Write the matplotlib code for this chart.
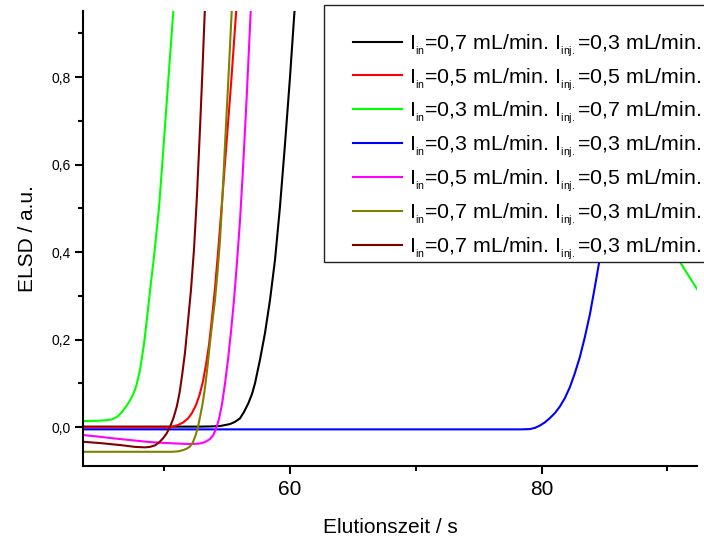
import matplotlib
matplotlib.use("Agg")
import matplotlib.pyplot as plt
from matplotlib.patches import Rectangle
from matplotlib.ticker import MultipleLocator, FuncFormatter

plt.rcParams['font.family'] = ['Liberation Sans', 'DejaVu Sans']
plt.rcParams['mathtext.default'] = 'regular'

# Elution traces (time in s, ELSD signal in a.u.)
black_t = [43.55, 52.85, 53.64, 54.44, 55.23, 55.63, 56.03, 56.34, 56.69, 56.98, 57.22, 57.61, 58.01, 58.41,
           58.81, 59.20, 59.60, 60.00, 60.36, 60.80]
black_y = [0.001, 0.001, 0.0014, 0.0023, 0.0069, 0.0119, 0.0199, 0.0343, 0.0542, 0.0754, 0.0999, 0.153, 0.214,
           0.290, 0.382, 0.502, 0.645, 0.799, 0.951, 1.10]

red_t = [43.55, 50.07, 50.62, 51.10, 51.50, 51.89, 52.21, 52.53, 52.81, 53.09, 53.32, 53.56, 53.80, 54.04,
         54.30, 54.67, 54.99, 55.35, 55.71, 55.87, 56.20]
red_y = [-0.0009, -0.0009, 0.0005, 0.0046, 0.0103, 0.0194, 0.032, 0.0503, 0.0731, 0.105, 0.142, 0.187, 0.249,
         0.318, 0.405, 0.542, 0.661, 0.798, 0.944, 1.02, 1.15]

green_t = [43.55, 44.50, 45.30, 45.85, 46.25, 46.65, 47.05, 47.42, 47.64, 47.82, 48.08, 48.40, 48.69, 48.95,
           49.19, 49.59, 49.93, 50.33, 50.73, 50.94, 52.0,
           88.0, 90.5, 91.00, 91.66, 92.32, 92.60]
green_y = [0.0137, 0.0142, 0.0153, 0.0176, 0.0229, 0.0343, 0.050, 0.068, 0.082, 0.098, 0.130, 0.190, 0.262,
           0.330, 0.388, 0.501, 0.633, 0.793, 0.951, 1.045, 1.50,
           1.50, 0.55, 0.377, 0.347, 0.317, 0.305]

blue_t = [43.55, 78.27, 78.67, 79.07, 79.47, 79.86, 80.26, 80.66, 81.06, 81.45, 81.85, 82.25, 82.64, 83.04,
          83.44, 83.84, 84.23, 84.63, 85.03, 85.58, 86.22, 87.02, 87.60]
blue_y = [-0.0053, -0.0053, -0.0050, -0.0046, -0.0018, 0.0034, 0.0107, 0.0206, 0.032, 0.0469, 0.0663, 0.0914,
          0.123, 0.160, 0.206, 0.258, 0.320, 0.386, 0.459, 0.576, 0.725, 0.930, 1.15]

magenta_t = [43.57, 44.90, 45.96, 47.29, 48.61, 49.67, 50.73, 52.05, 52.85, 53.24, 53.64, 53.88, 54.12, 54.36,
             54.60, 54.83, 55.07, 55.31, 55.55, 55.79, 56.03, 56.26, 56.56, 56.88, 57.20]
magenta_y = [-0.0183, -0.0222, -0.0258, -0.0297, -0.0336, -0.0357, -0.0373, -0.0389, -0.0377, -0.0343, -0.0274,
             -0.0194, -0.0046, 0.0183, 0.0526, 0.0983, 0.153, 0.217, 0.290, 0.377, 0.473, 0.587, 0.754, 0.951, 1.15]

olive_t = [43.55, 50.62, 51.10, 51.52, 51.81, 52.05, 52.29, 52.45, 52.65, 52.85, 53.05, 53.24, 53.44, 53.64,
           53.84, 54.04, 54.24, 54.44, 54.64, 54.83, 55.10, 55.37, 55.47, 55.80]
olive_y = [-0.0565, -0.0565, -0.0556, -0.0526, -0.0491, -0.0446, -0.0343, -0.0229, -0.0046, 0.0229, 0.0526,
           0.0891, 0.137, 0.192, 0.242, 0.290, 0.354, 0.427, 0.530, 0.642, 0.793, 0.951, 1.010, 1.20]

maroon_t = [43.57, 44.90, 46.49, 47.68, 48.48, 48.87, 49.27, 49.59, 49.93, 50.19, 50.46, 50.74, 51.00, 51.22,
            51.42, 51.66, 51.89, 52.13, 52.37, 52.61, 52.85, 53.02, 53.23, 53.50]
maroon_y = [-0.0336, -0.0366, -0.0411, -0.0453, -0.0464, -0.0453, -0.0418, -0.0354, -0.0251, -0.0149, 0.0,
            0.0206, 0.0464, 0.0777, 0.117, 0.171, 0.240, 0.313, 0.405, 0.530, 0.683, 0.798, 0.951, 1.15]

flows = [("0,7", "0,3"), ("0,5", "0,5"), ("0,3", "0,7"), ("0,3", "0,3"),
         ("0,5", "0,5"), ("0,7", "0,3"), ("0,7", "0,3")]
colors = ['#000000', '#ff0000', '#00ff00', '#0000ff', '#ff00ff', '#808000', '#800000']
series = [(black_t, black_y), (red_t, red_y), (green_t, green_y), (blue_t, blue_y),
          (magenta_t, magenta_y), (olive_t, olive_y), (maroon_t, maroon_y)]


def make_label(f_in, f_inj, nested=True):
    if nested:
        return "I$_{_{in}}$=" + f_in + " mL/min. I$_{_{inj.}}$=" + f_inj + " mL/min."
    return "I$_{in}$=" + f_in + " mL/min. I$_{inj.}$=" + f_inj + " mL/min."


W, H = 704, 540
fig = plt.figure(figsize=(W / 100, H / 100), dpi=100)
ax = fig.add_axes([83 / W, 1 - 466 / H, (697 - 83) / W, (466 - 11) / H])

lines = []
for (t, y), c in zip(series, colors):
    ln, = ax.plot(t, y, color=c, lw=1.5)
    lines.append(ln)

ax.set_xlim(43.55, 92.35)
ax.set_ylim(-0.089, 0.951)

for side in ('top', 'right'):
    ax.spines[side].set_visible(False)
for side in ('left', 'bottom'):
    ax.spines[side].set_linewidth(1.5)

ax.xaxis.set_major_locator(MultipleLocator(20))
ax.xaxis.set_minor_locator(MultipleLocator(10))
ax.yaxis.set_major_locator(MultipleLocator(0.2))
ax.yaxis.set_minor_locator(MultipleLocator(0.1))
ax.yaxis.set_major_formatter(FuncFormatter(lambda v, p: f"{v:.1f}".replace('.', ',').replace('-0,0', '0,0')))
ax.tick_params(which='major', direction='out', length=6, width=1.5)
ax.tick_params(which='minor', direction='out', length=3.5, width=1.5)
ax.tick_params(axis='x', labelsize=15, pad=4)
ax.tick_params(axis='y', labelsize=10, pad=3)

ax.set_xlabel("Elutionszeit / s", fontsize=15, labelpad=14)
ax.set_ylabel("ELSD / a.u.", fontsize=15, labelpad=10)

# Legend box with an opaque white background that hides the curves behind it
frame = Rectangle((324 / W, 1 - 262 / H), (720 - 324) / W, (262 - 5) / H,
                  transform=fig.transFigure, facecolor='white', edgecolor='#222222',
                  lw=1.0, zorder=4.8, clip_on=False)
ax.add_patch(frame)


def add_legend(nested):
    leg = ax.legend(lines, [make_label(a, b, nested) for a, b in flows],
                    loc='upper left', bbox_to_anchor=(353 / W, 1 - 32 / H),
                    bbox_transform=fig.transFigure, frameon=False, fontsize=15.4,
                    borderpad=0, borderaxespad=0, handlelength=2.3, handletextpad=0.3,
                    labelspacing=0.34)
    leg.set_zorder(5)
    for line in leg.get_lines():
        line.set_linewidth(1.5)
    return leg


leg = add_legend(True)
try:
    fig.canvas.draw()
except Exception:
    leg.remove()
    add_legend(False)

fig.savefig("out.png", dpi=100)
